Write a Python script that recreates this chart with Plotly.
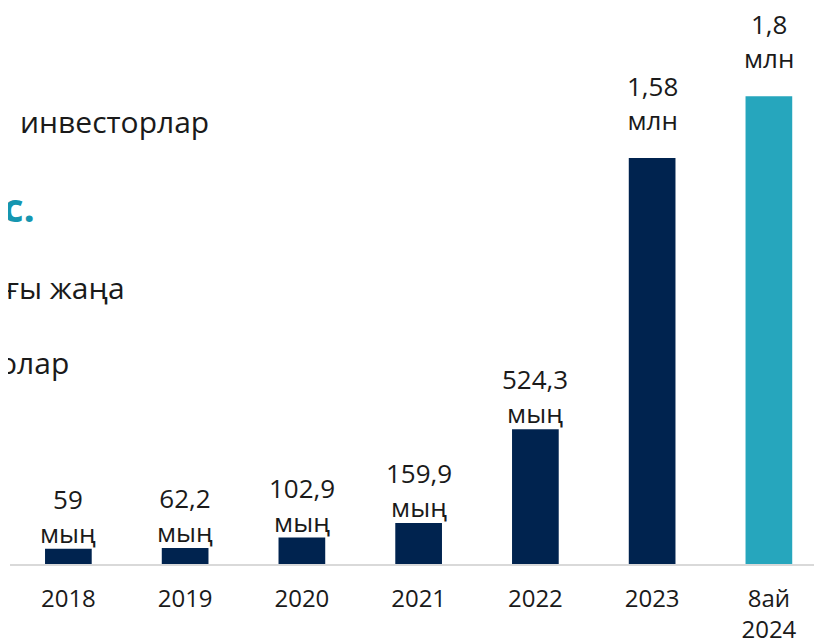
import plotly.graph_objects as go

categories = ["2018", "2019", "2020", "2021", "2022", "2023", "8ай<br>2024"]
values_thousand = [59, 62.2, 102.9, 159.9, 524.3, 1580, 1820]
value_labels = ["59<br>мың", "62,2<br>мың", "102,9<br>мың", "159,9<br>мың",
                "524,3<br>мың", "1,58<br>млн", "1,8<br>млн"]
bar_colors = ["#00234F"] * 6 + ["#26A6BD"]

# (text, right edge px on page, vertical centre px on page, bold)
side_texts = [
    ("н", 10, 78, True),
    ("инвесторлар", 211, 122, False),
    ("с.", 37, 206, True),
    ("ғы жаңа", 127, 287, False),
    ("олар", 71, 362, False),
]

FONT = "Open Sans"
OFF = 8  # page body margin
W, H = 822 - OFF, 638 - OFF
L, R, T, B = 2, 0, 0, 74
pw = W - L - R
ph = H - T - B

fig = go.Figure()
fig.add_trace(go.Bar(
    x=list(range(len(categories))), y=values_thousand,
    marker=dict(color=bar_colors, line=dict(width=0)),
    width=0.40, hoverinfo="skip",
))

for i, (v, t) in enumerate(zip(values_thousand, value_labels)):
    shift = 18 if "млн" in t else -4
    fig.add_annotation(x=i, y=v, xref="x", yref="y", text=t, showarrow=False,
                       yanchor="bottom", xanchor="center", yshift=shift,
                       font=dict(family=FONT, size=26, color="#1a1a1a"))

for txt, xr, yc, bold in side_texts:
    fig.add_annotation(
        x=(xr - OFF - L) / pw, y=(H - B - (yc - OFF)) / ph,
        xref="paper", yref="paper",
        text=f"<b>{txt}</b>" if bold else txt, showarrow=False,
        xanchor="right", yanchor="middle",
        font=dict(family=FONT, size=40 if bold else 30,
                  color="#1596B0" if bold else "#1a1a1a"))

fig.update_layout(
    width=W, height=H,
    margin=dict(l=L, r=R, t=T, b=B, pad=0, autoexpand=False),
    paper_bgcolor="white", plot_bgcolor="white",
    showlegend=False,
    xaxis=dict(range=[-0.5, -0.5 + pw / 116.75], showline=True,
               tickmode="array", tickvals=list(range(len(categories))),
               ticktext=categories, automargin=False,
               linecolor="#D9D9D9", linewidth=2, showgrid=False, zeroline=False,
               ticks="", ticklabelstandoff=12,
               tickfont=dict(family=FONT, size=24, color="#1a1a1a"),
               fixedrange=True),
    yaxis=dict(range=[0, (H - B) / 257 * 1000], visible=False, showgrid=False,
               zeroline=False, fixedrange=True, automargin=False),
)

fig.write_html("out.html")
